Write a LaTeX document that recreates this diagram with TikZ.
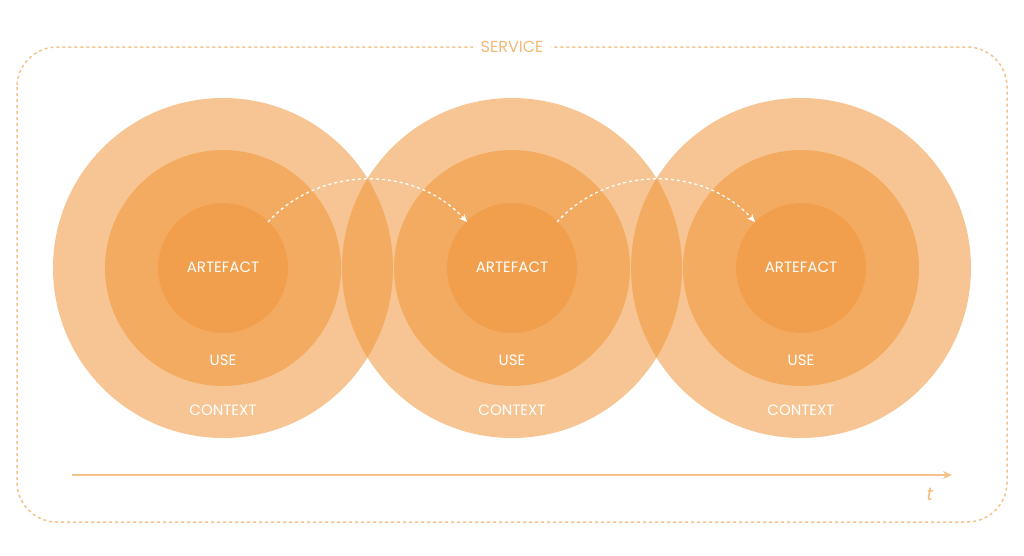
\documentclass[tikz,border=0pt]{standalone}
\usepackage{fontspec}
\setmainfont{Poppins}
\usetikzlibrary{arrows.meta}
\definecolor{org}{HTML}{F0963A}
\definecolor{lineorg}{HTML}{F6C28C}
\definecolor{txtorg}{HTML}{F4B878}
\begin{document}
\begin{tikzpicture}[x=1pt,y=-1pt,
  ring/.style={fill=org,fill opacity=0.55,draw=none},
  lbl/.style={text=white,font=\fontsize{15}{16}\selectfont},
  hop/.style={draw=white,dashed,line width=1.3pt,-{Stealth[length=8pt,width=7pt]}}]
\useasboundingbox (0,0) rectangle (1024,555);
\draw[lineorg,line width=1.5pt,dash pattern=on 3pt off 3pt,rounded corners=40pt] (17,47) rectangle (1007,522);
\node[fill=white,text=txtorg,font=\fontsize{16}{17}\selectfont,inner xsep=8pt] (svc) at (512,47) {SERVICE};
\foreach \i/\cx in {1/223,2/512,3/801}{
  \fill[ring] (\cx,268) circle[radius=170pt];
  \fill[ring] (\cx,268) circle[radius=118pt];
  \fill[ring] (\cx,268) circle[radius=65pt];
  \node[lbl] (art\i) at (\cx,267) {ARTEFACT};
  \node[lbl] (use\i) at (\cx,360) {USE};
  \node[lbl] (ctx\i) at (\cx,410) {CONTEXT};
}
\coordinate (a1) at (268,222);
\coordinate (b1) at (467,222);
\coordinate (a2) at (557,222);
\coordinate (b2) at (755,222);
\draw[hop] (a1) .. controls (320,165) and (415,165) .. (b1);
\draw[hop] (a2) .. controls (609,165) and (703,165) .. (b2);
\coordinate (t0) at (72,475);
\coordinate (t1) at (952,475);
\draw[lineorg,line width=1.5pt,-{Stealth[length=9pt,width=8pt]}] (t0) -- (t1);
\node[text=txtorg,font=\fontsize{18}{19}\selectfont\itshape] (tl) at (930,494) {t};
\end{tikzpicture}
\end{document}
